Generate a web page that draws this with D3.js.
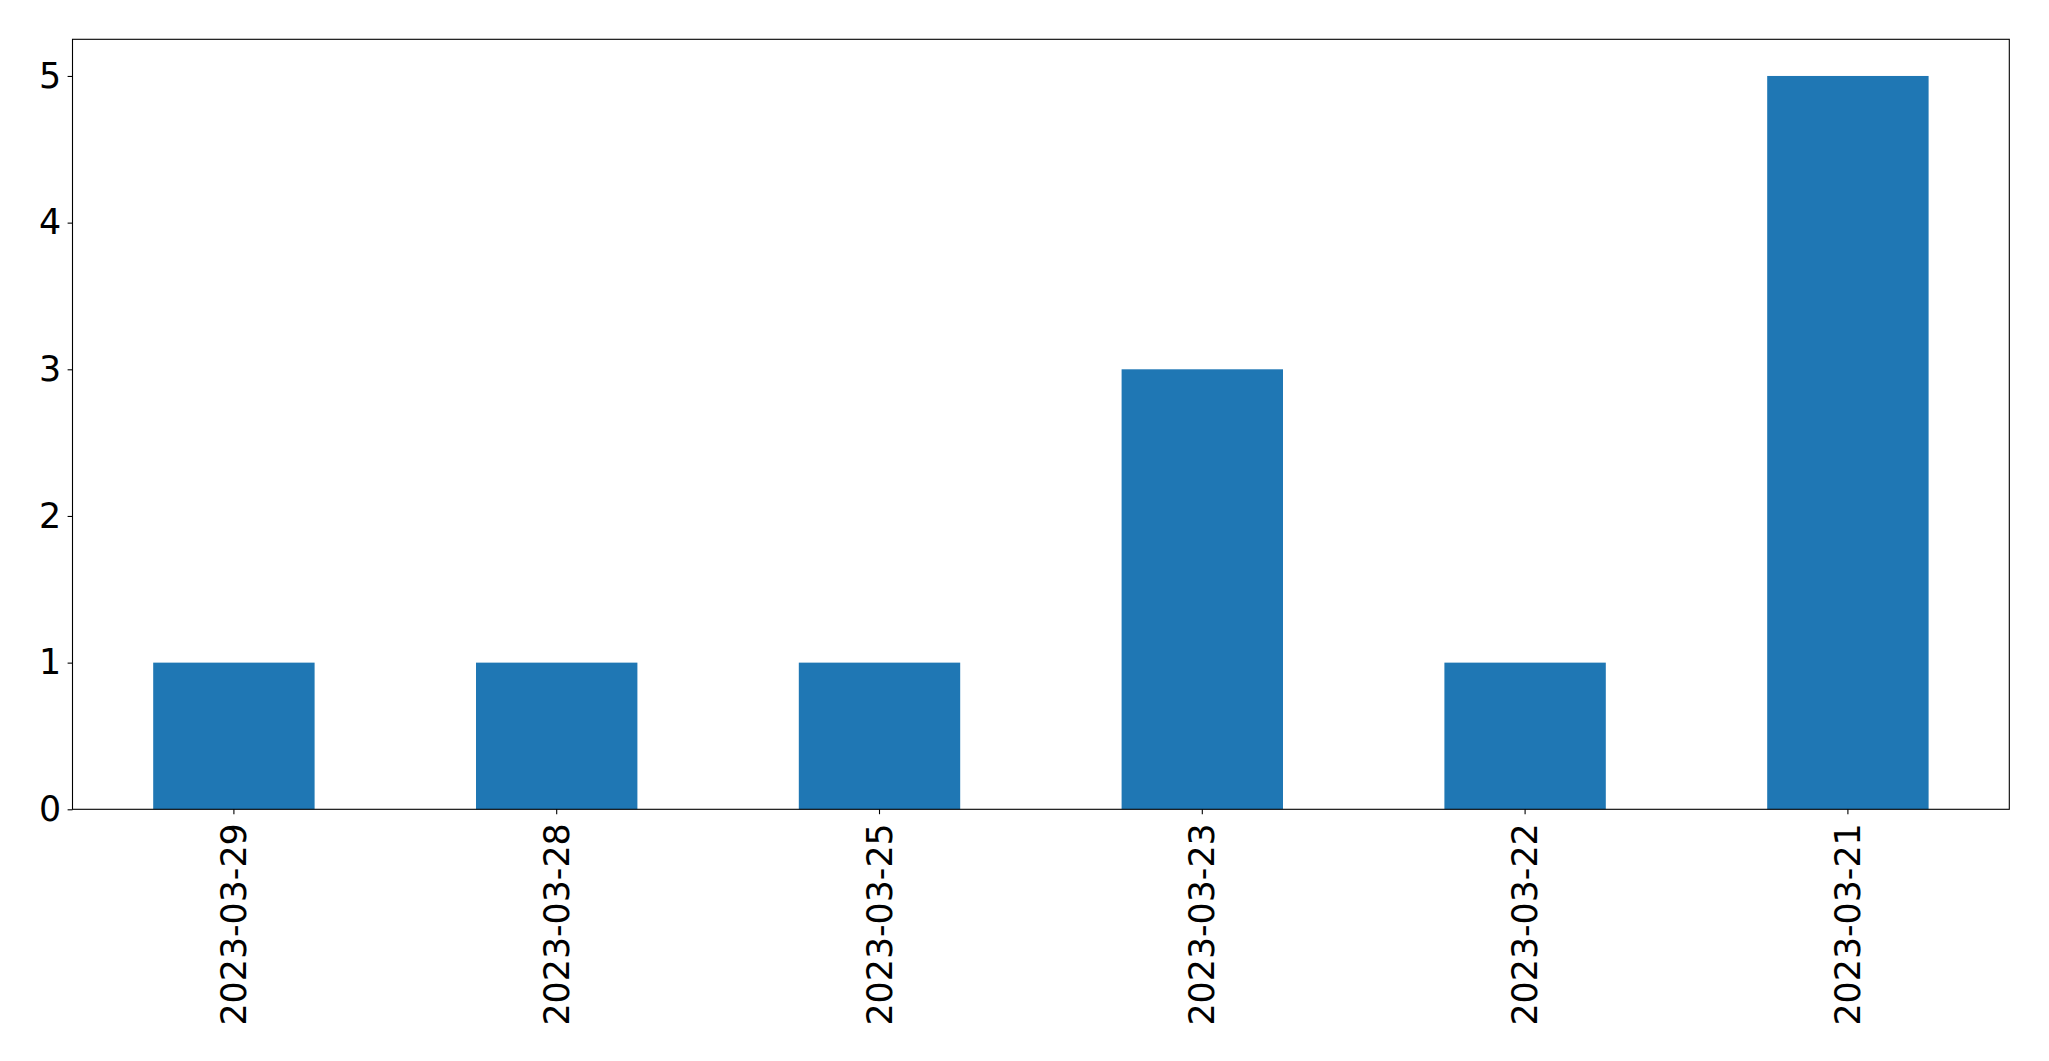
<!DOCTYPE html>
<html>
<head>
<meta charset="utf-8">
<script src="https://cdn.jsdelivr.net/npm/d3@7"></script>
<style>
  html, body { margin: 0; padding: 0; background: #fff; }
  svg { display: block; }
  text { font-family: "DejaVu Sans", sans-serif; }
</style>
</head>
<body>
<script>
const categories = ["2023-03-29", "2023-03-28", "2023-03-25", "2023-03-23", "2023-03-22", "2023-03-21"];
const values = [1, 1, 1, 3, 1, 5];
const yTicks = [0, 1, 2, 3, 4, 5];

(function () {
const W = 2049, H = 1061;
const mLeft = 72.5, mRight = 2009.3, mTop = 39.3, mBottom = 809.3;

const svg = d3.select("body").append("svg").attr("width", W).attr("height", H);

const x = d3.scaleBand().domain(categories).range([mLeft, mRight]).paddingInner(0.5).paddingOuter(0.25);
const y = d3.scaleLinear().domain([0, 5.25]).range([mBottom, mTop]);

svg.append("g").selectAll("rect").data(values).join("rect")
  .attr("x", (d, i) => x(categories[i]))
  .attr("width", x.bandwidth())
  .attr("y", d => y(d))
  .attr("height", d => y(0) - y(d))
  .attr("fill", "#1f77b4");

const fs = "34.8px";

const yAxis = svg.append("g").attr("transform", `translate(${mLeft},0)`)
  .call(d3.axisLeft(y).tickValues(yTicks).tickFormat(d3.format("d")).tickSize(4.9).tickPadding(6.5));
yAxis.select(".domain").remove();
yAxis.selectAll("text").style("font-size", fs).attr("fill", "#000");
yAxis.selectAll("line").attr("stroke", "#000").attr("stroke-width", 1.1);

const xAxis = svg.append("g").attr("transform", `translate(0,${mBottom})`)
  .call(d3.axisBottom(x).tickSize(4.9).tickPadding(0));
xAxis.select(".domain").remove();
xAxis.selectAll("line").attr("stroke", "#000").attr("stroke-width", 1.1);
xAxis.selectAll("text")
  .style("font-size", fs).attr("fill", "#000")
  .attr("text-anchor", "end")
  .attr("dy", "0.35em")
  .attr("y", 0)
  .attr("transform", "translate(0,14) rotate(-90)");

svg.append("rect")
  .attr("x", mLeft).attr("y", mTop)
  .attr("width", mRight - mLeft).attr("height", mBottom - mTop)
  .attr("fill", "none").attr("stroke", "#000").attr("stroke-width", 1.1);
})();
</script>
</body>
</html>
